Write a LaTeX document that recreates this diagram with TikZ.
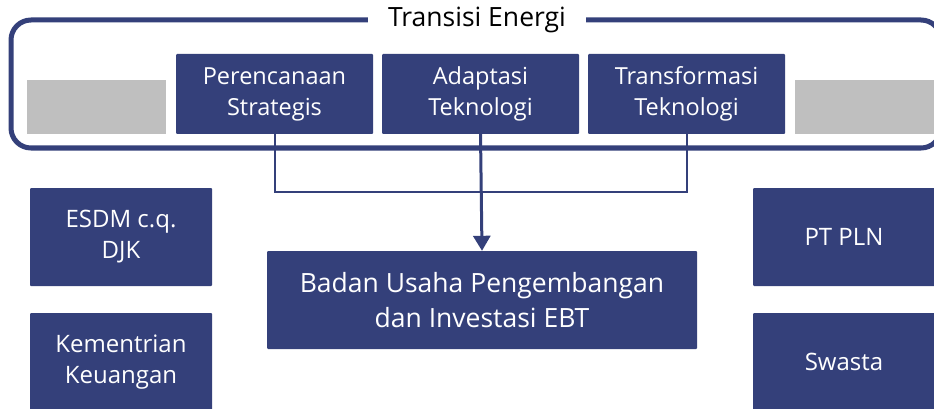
\documentclass[tikz,border=0pt]{standalone}
\usepackage{fontspec}
\setmainfont{Open Sans}
\usetikzlibrary{arrows.meta}

\definecolor{navy}{RGB}{52,64,122}
\definecolor{greybox}{RGB}{191,191,191}

\tikzset{
  unit/.style={fill=navy, text=white, align=center, inner sep=0pt, rounded corners=1pt,
    minimum width=197pt, minimum height=80pt, font=\fontsize{23.5}{31}\selectfont},
  side/.style={unit, minimum width=182pt, minimum height=98pt, font=\fontsize{24}{31}\selectfont},
  link/.style={navy, line width=2pt}
}

\begin{document}
\begin{tikzpicture}[x=1pt,y=-1pt]
\useasboundingbox (0,0) rectangle (934,409);
\clip (0,0) rectangle (934,409);

% frame round the three steps
\draw[navy, line width=5pt, rounded corners=20pt] (11,20) rectangle (941,148);
\node[fill=white, inner xsep=20pt, inner ysep=2pt, font=\fontsize{26.5}{30}\selectfont] (title) at (477,20) {Transisi Energi};
\fill[greybox] (27,80) rectangle (166,134);
\fill[greybox] (795,80) rectangle (934,134);

\node[unit] (plan) at (274.5,94) {Perencanaan\\Strategis};
\node[unit] (adapt) at (480.5,94) {Adaptasi\\Teknologi};
\node[unit] (trans) at (686.5,94) {Transformasi\\Teknologi};

\node[side] (esdm) at (121,237) {ESDM c.q.\\DJK};
\node[side] (keu) at (121,362) {Kementrian\\Keuangan};
\node[side] (pln) at (844,237) {PT PLN};
\node[side] (swasta) at (844,362) {Swasta};

\node[unit, minimum width=430pt, minimum height=98pt, font=\fontsize{26.5}{35}\selectfont] (badan) at (482,300)
  {Badan Usaha Pengembangan\\dan Investasi EBT};

\draw[link] (plan.south) -- ++(0,58) -| (trans.south);
\draw[navy, line width=3pt, -{Triangle[width=17pt,length=15pt]}] (adapt.south) -- (badan.north);

\end{tikzpicture}
\end{document}
